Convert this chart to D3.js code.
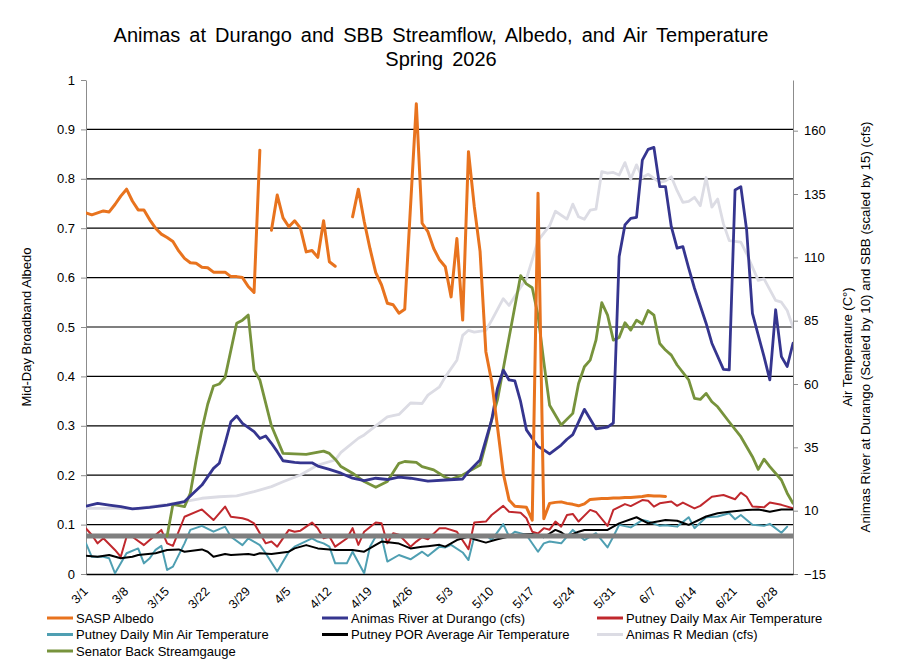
<!DOCTYPE html>
<html>
<head>
<meta charset="utf-8">
<script src="https://cdn.jsdelivr.net/npm/d3@7"></script>
<style>
  body { margin: 0; background: #fff; }
  svg { font-family: "Liberation Sans", Arial, sans-serif; }
</style>
</head>
<body>
<svg id="chart" width="908" height="659"></svg>
<script>
// x labels, one every 7 days from 3/1 (day 0)
var tickLabels = ["3/1","3/8","3/15","3/22","3/29","4/5","4/12","4/19","4/26","5/3","5/10","5/17","5/24","5/31","6/7","6/14","6/21","6/28"];

// [day since 3/1, value]; null = gap
var sasp = [[0,.731],[1,.727],[2,.731],[3,.735],[4,.733],[5,.748],[6,.765],[7,.779],[8,.755],[9,.737],[10,.737],[11,.717],[12,.700],[13,.688],[14,.681],[15,.673],[16,.654],[17,.639],[18,.630],[19,.629],[20,.621],[21,.620],[22,.611],[23,.611],[24,.611],[25,.602],[26,.602],[27,.600],[28,.582],[29,.570],[30,.858],[31,null],[32,.696],[33,.767],[34,.721],[35,.703],[36,.715],[37,.700],[38,.652],[39,.655],[40,.641],[41,.715],[42,.632],[43,.623],[44,null],[46,.723],[47,.779],[48,.714],[49,.659],[50,.610],[51,.585],[52,.548],[53,.545],[54,.528],[55,.536],[57,.952],[58,.710],[59,.693],[60,.659],[61,.636],[62,.622],[63,.561],[64,.679],[65,.514],[66,.855],[67,.744],[68,.653],[69,.450],[70,.390],[71,.298],[72,.204],[73,.150],[74,.137],[75,.136],[76,.135],[77,.109],[78,.771],[79,.112],[80,.143],[81,.145],[82,.146],[83,.143],[84,.141],[85,.138],[86,.142],[87,.151],[88,.152],[89,.153],[90,.153],[91,.154],[92,.154],[93,.155],[94,.155],[95,.156],[96,.157],[97,.159],[98,.158],[99,.158],[100,.157]];

var animas = [[0,11.8],[2,12.9],[4,12.2],[6,11.6],[8,10.7],[11,11.3],[14,12.2],[17,13.6],[18,15.8],[20,20.1],[22,26.7],[23,28.7],[24,36.6],[25,45.1],[26,47.4],[27,44.5],[29,41.2],[30,38.5],[31,39.5],[32,36.6],[33,33.3],[34,29.7],[36,29.1],[37,28.9],[39,28.9],[40,27.6],[42,26.3],[44,24.8],[46,22.8],[48,21.9],[50,22.8],[52,22.3],[54,23.2],[56,22.8],[58,22.1],[59,21.7],[62,22.1],[65,22.5],[66,25.4],[68,30],[69,37.9],[70,45.8],[71,58.3],[72,65.5],[73,61.6],[74,61.2],[75,53],[76,41.9],[78,35.3],[79,34],[80,32.4],[82,35.9],[83,38.2],[84,40],[86,50],[88,42.3],[90,43],[91,44.6],[92,110.3],[93,122.8],[94,125.4],[95,125.8],[96,148.4],[97,152.6],[98,153.4],[99,137.9],[100,137.9],[101,122.1],[102,113.6],[103,114.2],[104,105.7],[105,97.8],[107,84],[108,76.1],[110,65.8],[111,65.6],[112,136.6],[113,137.9],[114,120.8],[115,87.9],[117,70.8],[118,61.6],[119,89.3],[120,70.8],[121,66.9],[122,76.1]];

var putneyMax = [[0,3],[1,0.4],[2,-2.9],[3,-0.9],[5,-5.5],[6,-8.2],[7,-0.3],[8,-0.3],[10,-3.6],[11,-1.6],[12,0.4],[13,2.4],[14,-2.9],[15,-3.9],[17,7.6],[20,10.5],[22,6.3],[24,11.6],[25,7.6],[27,7],[28,6.3],[29,5],[31,-2.9],[32,-2.2],[33,-4.2],[35,2.4],[36,1.7],[37,2.1],[39,5.3],[40,3],[41,-0.9],[42,-0.2],[43,-4.2],[45,-1],[46,3.1],[47,-3.5],[48,1.7],[50,5.3],[51,5],[52,-2.9],[53,1.1],[54,0.5],[56,-4.2],[57,-2.2],[58,-0.5],[59,-1.3],[61,3.1],[62,3.1],[64,1.7],[66,-5.2],[67,5.3],[69,5.7],[70,8.3],[72,11.9],[73,9.6],[75,9.2],[76,7],[77,1.7],[78,1],[79,3.1],[80,2.5],[81,5.7],[82,3.7],[83,8.3],[84,8.7],[85,5.7],[87,10.3],[88,9.5],[90,4],[91,10.3],[93,12.6],[94,11.8],[96,14.2],[97,13.9],[98,11.6],[99,12.9],[101,13.6],[102,11.9],[103,13.2],[105,10.9],[106,11.9],[108,15.5],[110,16.2],[112,14.5],[113,17.1],[114,15.5],[115,11.6],[117,11.3],[118,13.2],[120,12.3],[122,10.9]];

var putneyMin = [[0,-2.9],[1,-8.2],[3,-8.2],[4,-8.8],[5,-14.7],[6,-10.8],[7,-6.8],[9,-4.9],[10,-10.8],[11,-8.8],[12,-5.5],[13,-3.9],[14,-13.4],[15,-12.1],[17,-2.9],[18,2.4],[20,4],[22,1.7],[24,3.7],[25,-0.3],[27,-3.6],[28,-0.9],[30,-3.6],[31,-6.8],[33,-14],[35,-6.2],[36,-4.2],[39,-0.9],[40,-2.2],[41,-2.9],[42,-4.2],[43,-10.8],[45,-10.8],[46,-6.2],[48,-14.7],[49,-4.2],[50,-0.2],[51,-0.2],[52,-10.1],[54,-7.5],[56,-9.2],[58,-6.2],[59,-7.9],[61,-4.2],[62,-4.5],[63,-3.5],[65,-6.5],[66,-9.5],[67,-0.2],[69,0.4],[70,-1.6],[72,4.7],[73,-0.2],[74,1.7],[76,0.4],[78,-6.2],[79,-2.9],[80,-2.2],[82,-2.9],[84,2.4],[86,-1.6],[88,1.1],[90,-4.5],[91,-0.2],[92,4.4],[94,3.4],[96,6.3],[97,5.8],[99,4],[100,4.2],[102,3.7],[104,7.4],[105,3.1],[107,7.4],[109,7.7],[111,9],[112,6.6],[113,8.3],[115,4.4],[117,4],[118,4.8],[120,1.3],[121,3.7]];

var putneyAvg = [[0,-7.8],[2,-8.2],[4,-7.5],[6,-8.8],[8,-8.2],[9,-7.5],[12,-6.8],[14,-5.5],[16,-5.3],[17,-6.2],[20,-5.3],[21,-6.2],[22,-8.2],[24,-7.1],[25,-7.5],[28,-7.1],[29,-7.5],[30,-6.8],[32,-7.1],[35,-6.2],[36,-4.9],[38,-3.6],[40,-4.9],[43,-5.5],[46,-5.5],[48,-6.2],[50,-3.5],[51,-2.2],[54,-3],[56,-4.9],[58,-4.2],[59,-4],[61,-3.5],[62,-4.2],[64,-1.6],[66,-0.2],[67,-1.3],[69,-2.6],[71,-1.3],[73,-0.2],[76,0.7],[77,0.8],[79,-0.5],[81,2.4],[82,1.5],[83,-0.2],[85,1.7],[86,2.4],[90,2.4],[92,5],[95,7.4],[97,5],[100,6.3],[102,6],[104,4.4],[107,7.7],[109,9],[111,9.6],[114,10.3],[116,10.5],[118,9.6],[120,10.5],[122,10.5]];

var animasMedian = [[0,10.9],[6,10.9],[9,10.7],[11,11.6],[14,12.5],[17,13.6],[20,14.9],[23,15.5],[26,15.8],[29,17.5],[32,19.5],[34,21.4],[37,24.1],[40,28],[43,30],[44,33],[47,38.6],[48,39.9],[50,43.5],[52,47],[54,48],[56,52.5],[58,52.3],[59,55.6],[61,58.9],[62,62.8],[64,69.4],[65,79.2],[66,81.2],[67,80.5],[69,81.2],[70,85.1],[72,93.7],[73,91],[75,98.2],[76,101.5],[78,116.6],[80,122.5],[81,128.2],[83,125.1],[84,131],[85,126],[86,125],[87,128.6],[88,129],[89,143.8],[90,143.2],[91,143.5],[92,142.5],[93,147.4],[94,140.9],[95,146.5],[96,141.5],[97,142.8],[99,139.6],[100,140.2],[101,141.8],[102,136.3],[103,131.7],[104,132.1],[105,133.7],[106,130.4],[107,141.5],[108,129.8],[109,133],[110,123.2],[111,116.6],[113,116],[114,111.4],[116,100.9],[117,101.5],[119,93],[120,92.3],[121,89],[122,82.4]];

var senatorBeck = [[14,0],[15,12.5],[17,11.6],[18,16.9],[19,30],[20,42],[21,52],[22,59.2],[23,60],[24,62.6],[26,84],[27,85.2],[28,87.2],[29,65.5],[30,61.6],[32,43.5],[34,32.6],[36,32.4],[38,32.2],[41,33.5],[42,32.6],[43,30.3],[44,27.4],[46,24.8],[48,21.5],[50,19.2],[52,21.5],[54,28.7],[55,29.4],[57,29.1],[58,27.4],[60,26.1],[62,23.2],[63,22.4],[65,24.1],[66,25.4],[68,28],[69,36.6],[70,45.8],[71,53.7],[75,102.8],[76,99.5],[77,98],[78,87.1],[79,68.7],[80,51.6],[82,43.8],[84,48.4],[85,60.2],[86,66.8],[87,69.4],[88,77.3],[89,92.1],[90,87.2],[91,77.3],[92,78.4],[93,84.2],[94,81.3],[95,85.2],[96,83.7],[97,89],[98,87.2],[99,76],[100,73.4],[101,71.4],[102,67.5],[104,61.6],[105,54.3],[106,53.9],[107,56.3],[108,53],[109,51],[111,45],[113,39.2],[115,31.3],[116,26.3],[117,30.3],[118,27.4],[120,22.1],[121,16.9],[122,12.9]];

var freezing = [[0,0],[122,0]];

var leftTicks = [0,0.1,0.2,0.3,0.4,0.5,0.6,0.7,0.8,0.9,1];
var rightTicks = [-15,10,35,60,85,110,135,160];

var svg = d3.select("#chart");
var plotL = 86, plotR = 793, plotT = 80, plotB = 574;

var x = d3.scaleLinear().domain([0,122]).range([plotL,plotR]);
var yL = d3.scaleLinear().domain([0,1]).range([plotB,plotT]);
var yR = d3.scaleLinear().domain([-15,180]).range([plotB,plotT]);

svg.append("defs").append("clipPath").attr("id","plot")
  .append("rect").attr("x",plotL).attr("y",plotT).attr("width",plotR-plotL).attr("height",plotB-plotT);

// gridlines
svg.append("g").selectAll("line")
  .data(leftTicks.filter(function(d){ return d > 0 && d < 1; }))
  .enter().append("line")
  .attr("x1",plotL).attr("x2",plotR)
  .attr("y1",function(d){ return yL(d); }).attr("y2",function(d){ return yL(d); })
  .attr("stroke","#000").attr("stroke-width",1.2);

// axes
var gl = svg.append("g").attr("transform","translate("+plotL+",0)")
  .call(d3.axisLeft(yL).tickValues(leftTicks).tickSizeOuter(0).tickSizeInner(5)
    .tickFormat(function(d){ return d === 0 || d === 1 ? d : d3.format(".1f")(d); }));
gl.select(".domain").attr("stroke","#8c8c8c");
gl.selectAll(".tick line").attr("stroke","#8c8c8c");
gl.selectAll("text").attr("font-size",13).attr("fill","#000").attr("dx","-3");

var gr = svg.append("g").attr("transform","translate("+plotR+",0)")
  .call(d3.axisRight(yR).tickValues(rightTicks).tickSizeOuter(0).tickSizeInner(5));
gr.select(".domain").attr("stroke","#8c8c8c");
gr.selectAll(".tick line").attr("stroke","#8c8c8c");
gr.selectAll("text").attr("font-size",13).attr("fill","#000").attr("dx","3");

var gb = svg.append("g").attr("transform","translate(0,"+plotB+")")
  .call(d3.axisBottom(x).tickValues(tickLabels.map(function(d,i){ return i*7; }))
    .tickSize(0).tickFormat(function(d,i){ return tickLabels[i]; }));
gb.select(".domain").attr("stroke","#000").attr("stroke-width",1.5);
gb.selectAll("text").attr("font-size",12.5).attr("fill","#000")
  .attr("text-anchor","end")
  .attr("transform","translate(-4,12) rotate(-45)")
  .attr("dy","0.7em").attr("y",0);

// series
var lineL = d3.line().defined(function(d){ return d[1] != null; })
  .x(function(d){ return x(d[0]); }).y(function(d){ return yL(d[1]); });
var lineR = d3.line().defined(function(d){ return d[1] != null; })
  .x(function(d){ return x(d[0]); }).y(function(d){ return yR(d[1]); });

var plot = svg.append("g").attr("clip-path","url(#plot)")
  .attr("fill","none").attr("stroke-linejoin","round").attr("stroke-linecap","round");

function draw(data, gen, color, w) {
  plot.append("path").datum(data).attr("d",gen)
    .attr("stroke",color).attr("stroke-width",w);
}
draw(animasMedian, lineR, "#dcdce4", 2.8);
draw(putneyMin, lineR, "#4f9fb2", 2);
draw(putneyMax, lineR, "#c0282d", 2);
draw(putneyAvg, lineR, "#000000", 2);
draw(freezing, lineR, "#7f7f7f", 5);
draw(senatorBeck, lineR, "#77933c", 2.8);
draw(animas, lineR, "#35358f", 2.8);
draw(sasp, lineL, "#e8731e", 3);

// titles
svg.append("text").attr("x",441).attr("y",42).attr("text-anchor","middle")
  .attr("font-size",20).attr("word-spacing","3.5px")
  .text("Animas at Durango and SBB Streamflow, Albedo, and Air Temperature");
svg.append("text").attr("x",441).attr("y",66).attr("text-anchor","middle")
  .attr("font-size",20).attr("word-spacing","3.5px").text("Spring 2026");

svg.append("text").attr("transform","translate(31,327) rotate(-90)")
  .attr("text-anchor","middle").attr("font-size",13).text("Mid-Day Broadband Albedo");
svg.append("text").attr("transform","translate(852,347) rotate(-90)")
  .attr("text-anchor","middle").attr("font-size",13).text("Air Temperature (C°)");
svg.append("text").attr("transform","translate(870,327) rotate(-90)")
  .attr("text-anchor","middle").attr("font-size",13.3)
  .text("Animas River at Durango (Scaled by 10) and SBB (scaled by 15) (cfs)");

// legend
var legend = [
  {name:"SASP Albedo", color:"#e8731e", col:0, row:0},
  {name:"Animas River at Durango (cfs)", color:"#35358f", col:1, row:0},
  {name:"Putney Daily Max Air Temperature", color:"#c0282d", col:2, row:0},
  {name:"Putney Daily Min Air Temperature", color:"#4f9fb2", col:0, row:1},
  {name:"Putney POR Average Air Temperature", color:"#000000", col:1, row:1},
  {name:"Animas R Median (cfs)", color:"#dcdce4", col:2, row:1},
  {name:"Senator Back Streamgauge", color:"#77933c", col:0, row:2}
];
var colX = [47, 322, 597];
var lg = svg.append("g").selectAll("g").data(legend).enter().append("g")
  .attr("transform",function(d){ return "translate("+colX[d.col]+","+(618+d.row*16.5)+")"; });
lg.append("line").attr("x1",0).attr("x2",26).attr("y1",0).attr("y2",0)
  .attr("stroke",function(d){ return d.color; }).attr("stroke-width",3);
lg.append("text").attr("x",29).attr("dy","0.35em").attr("font-size",13)
  .text(function(d){ return d.name; });
</script>
</body>
</html>
